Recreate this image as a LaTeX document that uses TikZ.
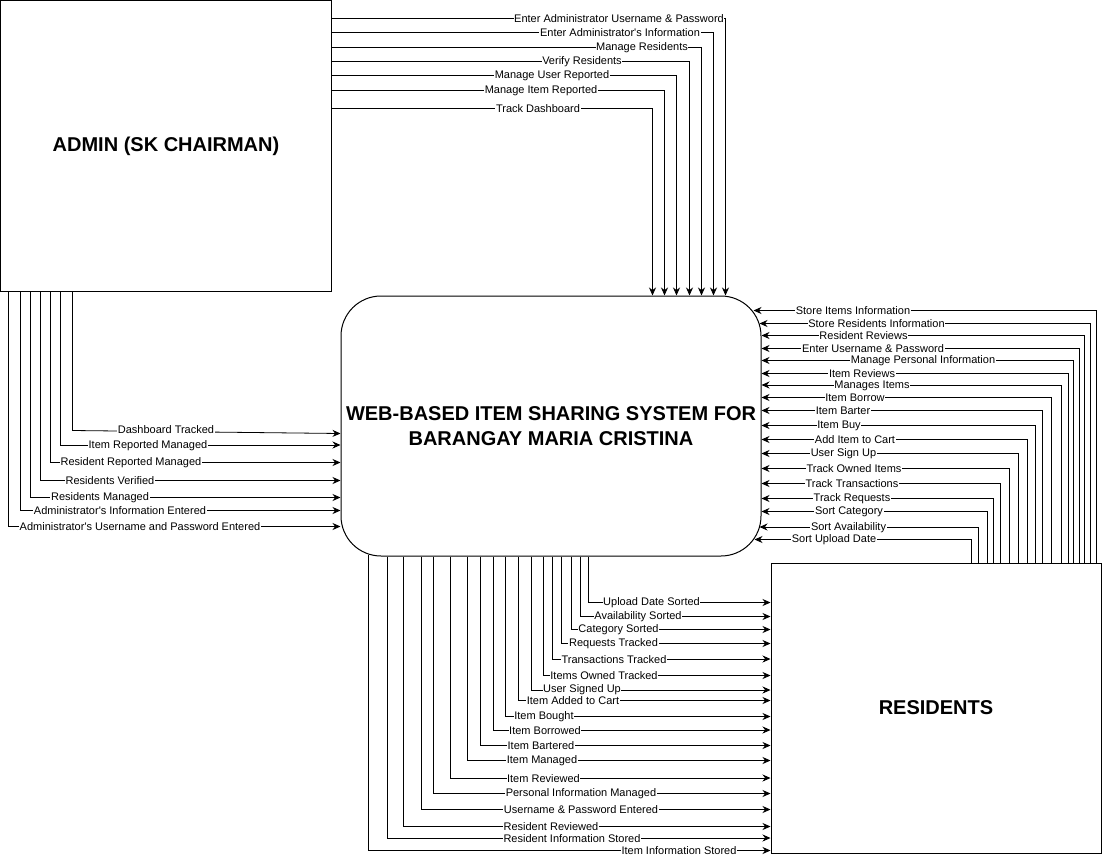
\documentclass[tikz,border=0pt]{standalone}
\usepackage{fontspec}
\setmainfont{Liberation Sans}
\usetikzlibrary{calc,arrows.meta}
\newcommand{\apos}{\textquotesingle}
\tikzset{entity/.style={draw,line width=1pt,align=center,
    font=\bfseries\fontsize{20}{25}\selectfont},
    flow/.style={->,line width=0.8pt},
    lbl/.style={fill=white,inner sep=0.6pt,font=\fontsize{11}{12}\selectfont}}

\begin{document}
\begin{tikzpicture}[x=1pt,y=-1pt,>={Stealth[length=8pt,width=7pt]}]
        \useasboundingbox (-1,-1) rectangle (1104,858);

        \node[entity,minimum width=330,minimum height=290] (admin) at (165,145) {ADMIN (SK CHAIRMAN)};
        \node[entity,rounded corners=40pt,minimum width=420,minimum height=260] (sys) at (550,425)
            {WEB-BASED ITEM SHARING SYSTEM FOR\\BARANGAY MARIA CRISTINA};
        \node[entity,minimum width=330,minimum height=290] (res) at (935,707) {RESIDENTS};

        % admin -> system (top)
        \draw[flow] ($(admin.north east)+(0,18)$) -| ($(sys.north west)+(385,0)$) node[lbl] at (618,18) {Enter Administrator Username \& Password};
        \draw[flow] ($(admin.north east)+(0,32)$) -| ($(sys.north west)+(373,0)$) node[lbl] at (619,32) {Enter Administrator\apos s Information};
        \draw[flow] ($(admin.north east)+(0,47)$) -| ($(sys.north west)+(361,0)$) node[lbl] at (641,47) {Manage Residents};
        \draw[flow] ($(admin.north east)+(0,61)$) -| ($(sys.north west)+(349,0)$) node[lbl] at (581,61) {Verify Residents};
        \draw[flow] ($(admin.north east)+(0,75)$) -| ($(sys.north west)+(336,0)$) node[lbl] at (551,75) {Manage User Reported};
        \draw[flow] ($(admin.north east)+(0,90)$) -| ($(sys.north west)+(324,0)$) node[lbl] at (540,90) {Manage Item Reported};
        \draw[flow] ($(admin.north east)+(0,108)$) -| ($(sys.north west)+(312,0)$) node[lbl] at (537,108) {Track Dashboard};

        % system -> admin (left)
        \draw[flow] ($(admin.south west)+(72,0)$) -- ++(0,139) -- ($(sys.north west)+(0,138)$) node[lbl] at (165,429) {Dashboard Tracked};
        \draw[flow] ($(admin.south west)+(60,0)$) |- ($(sys.north west)+(0,149.5)$) node[lbl] at (147,444.5) {Item Reported Managed};
        \draw[flow] ($(admin.south west)+(50,0)$) |- ($(sys.north west)+(0,167)$) node[lbl] at (130,462) {Resident Reported Managed};
        \draw[flow] ($(admin.south west)+(40,0)$) |- ($(sys.north west)+(0,185)$) node[lbl] at (109,480) {Residents Verified};
        \draw[flow] ($(admin.south west)+(30,0)$) |- ($(sys.north west)+(0,202)$) node[lbl] at (99,497) {Residents Managed};
        \draw[flow] ($(admin.south west)+(20,0)$) |- ($(sys.north west)+(0,215)$) node[lbl] at (119,510) {Administrator\apos s Information Entered};
        \draw[flow] ($(admin.south west)+(8,0)$) |- ($(sys.north west)+(0,231)$) node[lbl] at (139,526) {Administrator\apos s Username and Password Entered};

        % residents -> system (right)
        \draw[flow] ($(res.north west)+(326,0)$) |- ($(sys.north east)+(-8,15)$) node[lbl] at (852,310) {Store Items Information};
        \draw[flow] ($(res.north west)+(320,0)$) |- ($(sys.north east)+(-2,28)$) node[lbl] at (875.5,323) {Store Residents Information};
        \draw[flow] ($(res.north west)+(314,0)$) |- ($(sys.north east)+(0,40)$) node[lbl] at (862.5,335) {Resident Reviews};
        \draw[flow] ($(res.north west)+(309,0)$) |- ($(sys.north east)+(0,53)$) node[lbl] at (872,348) {Enter Username \& Password};
        \draw[flow] ($(res.north west)+(303,0)$) |- ($(sys.north east)+(0,65)$) node[lbl] at (922,360) {Manage Personal Information};
        \draw[flow] ($(res.north west)+(298,0)$) |- ($(sys.north east)+(0,78)$) node[lbl] at (861,373) {Item Reviews};
        \draw[flow] ($(res.north west)+(291,0)$) |- ($(sys.north east)+(0,89.5)$) node[lbl] at (871,384.5) {Manages Items};
        \draw[flow] ($(res.north west)+(281,0)$) |- ($(sys.north east)+(0,102)$) node[lbl] at (854,397) {Item Borrow};
        \draw[flow] ($(res.north west)+(272,0)$) |- ($(sys.north east)+(0,115)$) node[lbl] at (842,410) {Item Barter};
        \draw[flow] ($(res.north west)+(265,0)$) |- ($(sys.north east)+(0,130)$) node[lbl] at (838,425) {Item Buy};
        \draw[flow] ($(res.north west)+(257,0)$) |- ($(sys.north east)+(0,144)$) node[lbl] at (854,439) {Add Item to Cart};
        \draw[flow] ($(res.north west)+(248,0)$) |- ($(sys.north east)+(0,158)$) node[lbl] at (842.5,453) {User Sign Up};
        \draw[flow] ($(res.north west)+(239,0)$) |- ($(sys.north east)+(0,173)$) node[lbl] at (853,468) {Track Owned Items};
        \draw[flow] ($(res.north west)+(230,0)$) |- ($(sys.north east)+(0,188)$) node[lbl] at (851,483) {Track Transactions};
        \draw[flow] ($(res.north west)+(223,0)$) |- ($(sys.north east)+(0,203)$) node[lbl] at (851,498) {Track Requests};
        \draw[flow] ($(res.north west)+(217,0)$) |- ($(sys.north east)+(0,216)$) node[lbl] at (848,511) {Sort Category};
        \draw[flow] ($(res.north west)+(208,0)$) |- ($(sys.north east)+(-2,231.5)$) node[lbl] at (847.5,526.5) {Sort Availability};
        \draw[flow] ($(res.north west)+(201,0)$) |- ($(sys.north east)+(-7,244)$) node[lbl] at (833,539) {Sort Upload Date};

        % system -> residents (bottom)
        \draw[flow] ($(sys.south west)+(248,0)$) |- ($(res.north west)+(0,40)$) node[lbl] at (650.5,602) {Upload Date Sorted};
        \draw[flow] ($(sys.south west)+(240,0)$) |- ($(res.north west)+(0,54)$) node[lbl] at (637,616) {Availability Sorted};
        \draw[flow] ($(sys.south west)+(231,0)$) |- ($(res.north west)+(0,67)$) node[lbl] at (617.5,629) {Category Sorted};
        \draw[flow] ($(sys.south west)+(221,0)$) |- ($(res.north west)+(0,81)$) node[lbl] at (612.5,643) {Requests Tracked};
        \draw[flow] ($(sys.south west)+(212,0)$) |- ($(res.north west)+(0,96.5)$) node[lbl] at (613,658.5) {Transactions Tracked};
        \draw[flow] ($(sys.south west)+(203,0)$) |- ($(res.north west)+(0,113)$) node[lbl] at (603,675) {Items Owned Tracked};
        \draw[flow] ($(sys.south west)+(191,0)$) |- ($(res.north west)+(0,127.5)$) node[lbl] at (581,688.5) {User Signed Up};
        \draw[flow] ($(sys.south west)+(178,0)$) |- ($(res.north west)+(0,138)$) node[lbl] at (572,700) {Item Added to Cart};
        \draw[flow] ($(sys.south west)+(165,0)$) |- ($(res.north west)+(0,154)$) node[lbl] at (543,716) {Item Bought};
        \draw[flow] ($(sys.south west)+(153,0)$) |- ($(res.north west)+(0,167.5)$) node[lbl] at (544,729.5) {Item Borrowed};
        \draw[flow] ($(sys.south west)+(140,0)$) |- ($(res.north west)+(0,183)$) node[lbl] at (540,745) {Item Bartered};
        \draw[flow] ($(sys.south west)+(127,0)$) |- ($(res.north west)+(0,198)$) node[lbl] at (541,760) {Item Managed};
        \draw[flow] ($(sys.south west)+(110,0)$) |- ($(res.north west)+(0,215.5)$) node[lbl] at (542.5,777.5) {Item Reviewed};
        \draw[flow] ($(sys.south west)+(93,0)$) |- ($(res.north west)+(0,231)$) node[lbl] at (580,793) {Personal Information Managed};
        \draw[flow] ($(sys.south west)+(81,0)$) |- ($(res.north west)+(0,247)$) node[lbl] at (580,809) {Username \& Password Entered};
        \draw[flow] ($(sys.south west)+(63,0)$) |- ($(res.north west)+(0,264)$) node[lbl] at (550,826) {Resident Reviewed};
        \draw[flow] ($(sys.south west)+(47,0)$) |- ($(res.north west)+(0,275.5)$) node[lbl] at (571,837.5) {Resident Information Stored};
        \draw[flow] ($(sys.south west)+(28,-2)$) |- ($(res.north west)+(0,288)$) node[lbl] at (678,850) {Item Information Stored};
\end{tikzpicture}
\end{document}
